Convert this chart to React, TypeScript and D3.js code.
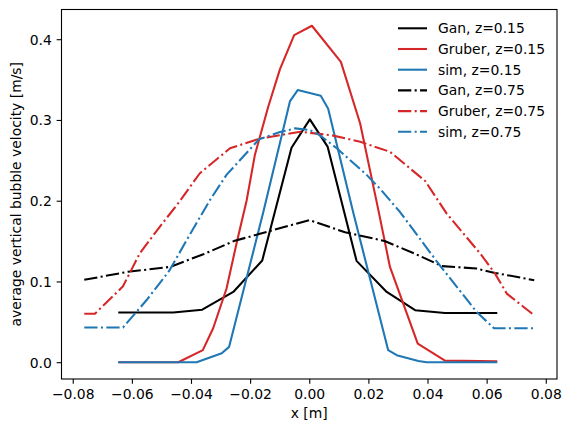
import React, { useEffect, useRef } from 'react';
import { select, scaleLinear, line, axisLeft, axisBottom, format } from 'd3';

const ganX15 = [-0.0646, -0.055, -0.046, -0.0362, -0.0257, -0.0159, -0.006, 0.0002, 0.0062, 0.016, 0.0262, 0.0358, 0.0459, 0.055, 0.0636];
const ganY15 = [0.0616, 0.0616, 0.0616, 0.065, 0.087, 0.126, 0.2656, 0.3007, 0.267, 0.1255, 0.087, 0.0644, 0.061, 0.061, 0.061];

const gruberX15 = [-0.0646, -0.0443, -0.036, -0.0325, -0.028, -0.0246, -0.0212, -0.0184, -0.0139, -0.0099, -0.0051, 0.0009, 0.0107, 0.0172, 0.0234, 0.0273, 0.0367, 0.0459, 0.0636];
const gruberY15 = [0, 0, 0.015, 0.042, 0.091, 0.147, 0.2, 0.2565, 0.316, 0.363, 0.405, 0.4167, 0.372, 0.296, 0.188, 0.118, 0.023, 0.002, 0.001];

const simX15 = [-0.0646, -0.0381, -0.0296, -0.0271, -0.0156, -0.0065, -0.0039, 0.0039, 0.0064, 0.0149, 0.0267, 0.0296, 0.0369, 0.0397, 0.0636];
const simY15 = [0, 0, 0.011, 0.019, 0.185, 0.3234, 0.337, 0.33, 0.314, 0.185, 0.0149, 0.0087, 0.0016, 0, 0];

const ganX75 = [-0.0761, -0.0613, -0.0471, -0.0356, -0.0255, -0.0167, 0, 0.0121, 0.0255, 0.0355, 0.0449, 0.0566, 0.0628, 0.0761];
const ganY75 = [0.102, 0.112, 0.118, 0.134, 0.15, 0.159, 0.176, 0.161, 0.15, 0.1347, 0.119, 0.116, 0.1106, 0.1016];

const gruberX75 = [-0.0761, -0.0725, -0.063, -0.0573, -0.0505, -0.0443, -0.037, -0.0268, -0.0167, -0.003, 0.0076, 0.0172, 0.0273, 0.0392, 0.0465, 0.0578, 0.0628, 0.0668, 0.0758];
const gruberY75 = [0.06, 0.06, 0.094, 0.135, 0.168, 0.197, 0.234, 0.265, 0.277, 0.2854, 0.281, 0.273, 0.2606, 0.2245, 0.184, 0.1347, 0.11, 0.085, 0.059];

const simX75 = [-0.0761, -0.063, -0.055, -0.0474, -0.0393, -0.0336, -0.028, -0.017, -0.0099, -0.0048, 0.0002, 0.0036, 0.0093, 0.0194, 0.0239, 0.0307, 0.0431, 0.0566, 0.0625, 0.0761];
const simY75 = [0.043, 0.043, 0.077, 0.113, 0.165, 0.2007, 0.232, 0.276, 0.285, 0.2896, 0.2875, 0.281, 0.265, 0.232, 0.215, 0.186, 0.125, 0.0623, 0.042, 0.042];

const xTicks = [-0.08, -0.06, -0.04, -0.02, 0, 0.02, 0.04, 0.06, 0.08];
const yTicks = [0, 0.1, 0.2, 0.3, 0.4];

const series = [
  { label: 'Gan, z=0.15', xs: ganX15, ys: ganY15, color: '#000000', dashed: false },
  { label: 'Gruber, z=0.15', xs: gruberX15, ys: gruberY15, color: '#d62728', dashed: false },
  { label: 'sim, z=0.15', xs: simX15, ys: simY15, color: '#1f77b4', dashed: false },
  { label: 'Gan, z=0.75', xs: ganX75, ys: ganY75, color: '#000000', dashed: true },
  { label: 'Gruber, z=0.75', xs: gruberX75, ys: gruberY75, color: '#d62728', dashed: true },
  { label: 'sim, z=0.75', xs: simX75, ys: simY75, color: '#1f77b4', dashed: true },
];

const dims = { width: 571, height: 432, left: 61.5, right: 557, top: 9.5, bottom: 379 };
const font = 'DejaVu Sans, sans-serif';
const dashDot = '13.3,3.33,2.08,3.33';

const App: React.FC = () => {
  const svgRef = useRef<SVGSVGElement | null>(null);

  useEffect(() => {
    const svg = select(svgRef.current);
    svg.selectAll('*').remove();

    const x = scaleLinear().domain([-0.0838, 0.0838]).range([dims.left, dims.right]);
    const y = scaleLinear().domain([-0.0208, 0.4368]).range([dims.bottom, dims.top]);

    const xAxis = axisBottom(x).tickValues(xTicks).tickFormat(d => format('.2f')(d as number))
      .tickSize(4.86).tickSizeOuter(0).tickPadding(5.5);
    const yAxis = axisLeft(y).tickValues(yTicks).tickFormat(d => format('.1f')(d as number))
      .tickSize(4.86).tickSizeOuter(0).tickPadding(4.86);

    const xg = svg.append('g').attr('transform', `translate(0, ${dims.bottom})`).call(xAxis);
    const yg = svg.append('g').attr('transform', `translate(${dims.left}, 0)`).call(yAxis);
    [xg, yg].forEach(g => {
      g.select('.domain').remove();
      g.selectAll('line').attr('stroke', '#000').attr('stroke-width', 1.1);
      g.selectAll('text').attr('font-family', font).attr('font-size', 13.9).attr('fill', '#000');
    });
    yg.selectAll('text').attr('dy', '0.36em');

    series.forEach(s => {
      const pts: [number, number][] = s.xs.map((v, i) => [x(v), y(s.ys[i])]);
      svg.append('path')
        .attr('d', line()(pts))
        .attr('fill', 'none')
        .attr('stroke', s.color)
        .attr('stroke-width', 2.08)
        .attr('stroke-linejoin', 'round')
        .attr('stroke-dasharray', s.dashed ? dashDot : null);
    });

    svg.append('rect')
      .attr('x', dims.left).attr('y', dims.top)
      .attr('width', dims.right - dims.left).attr('height', dims.bottom - dims.top)
      .attr('fill', 'none').attr('stroke', '#000').attr('stroke-width', 1.1);

    // legend, no frame
    const legend = svg.append('g');
    series.forEach((s, i) => {
      const ly = 28.3 + i * 20.7;
      legend.append('line')
        .attr('x1', 398).attr('x2', 427).attr('y1', ly).attr('y2', ly)
        .attr('stroke', s.color).attr('stroke-width', 2.08)
        .attr('stroke-dasharray', s.dashed ? dashDot : null);
      legend.append('text')
        .attr('x', 438).attr('y', ly + 5)
        .attr('font-family', font).attr('font-size', 13.9)
        .text(s.label);
    });

    svg.append('text')
      .attr('x', (dims.left + dims.right) / 2).attr('y', 418)
      .attr('text-anchor', 'middle')
      .attr('font-family', font).attr('font-size', 13.9)
      .text('x [m]');

    svg.append('text')
      .attr('transform', `translate(21, ${(dims.top + dims.bottom) / 2}) rotate(-90)`)
      .attr('text-anchor', 'middle')
      .attr('font-family', font).attr('font-size', 13.9)
      .text('average vertical bubble velocity [m/s]');
  }, []);

  return (
    <div style={{ position: 'absolute', left: 0, top: 0 }}>
      <svg ref={svgRef} width={dims.width} height={dims.height} style={{ display: 'block', background: '#fff' }} />
    </div>
  );
};

export default App;
